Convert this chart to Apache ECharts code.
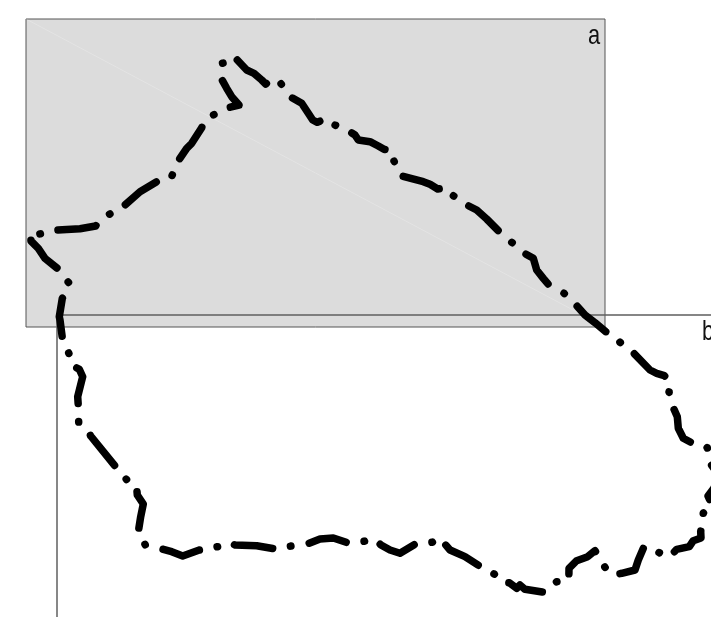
<!DOCTYPE html>
<html><head><meta charset="utf-8">
<style>html,body{margin:0;padding:0;background:#fff}#c{width:711px;height:617px}</style>
<script src="https://cdn.jsdelivr.net/npm/echarts@6/dist/echarts.min.js"></script>
</head><body><div id="c"></div>
<script>
// Closed outline, in panel b units
const outlineX = [180.3,189.7,197,204.7,208.7,216.4,224,233,244.7,251.3,255.7,260.3,270,278,293.7,298,301.3,313,321.3,327,336.5,337,344,366.3,373,380.7,390.5,396.3,411.3,419.7,429.7,441.3,449.2,454.7,468.7,476.3,479.7,486.3,491.3,507,520,528,538,548.7,557.6,563,576.3,593,599.7,607.3,614,612,617,620.3,621.3,626.3,634.7,643.2,650.3,653,658,660,657,651,655.5,646.3,643.7,644,636.3,632.3,619.7,612.2,602.3,587,581.3,578,564.7,554.7,548,538,530.7,519.7,512,511.8,499.7,487,468,463,459.7,452.3,442.8,437.3,422,408,393,388.7,383.2,375.3,358,343,333,324,316.7,307.3,290.3,276.3,263,252,234,217,199.7,178,169.7,160.7,142.3,125.7,114.7,106.3,88.3,81.3,83.7,86.3,80.3,79.4,69.7,58,33.7,29.6,21.7,21.3,20.7,25.7,22.3,13.1,12,5.3,3,2.3,5.3,11.7,11.7,0.3,-12,-18.7,-26,-26.5,-17.3,0.3,23,38.7,43.7,52.3,68,83,99.7,106.1,115,122.3,129.7,134.7,144.7,147.8,156.3,173,182,174.7,169.7,164.7,162.6,165.3,180.3];
const outlineY = [-255,-245,-241.7,-235,-231,-237,-231.3,-218.3,-211.7,-201.7,-195,-192.7,-196.9,-190,-182.7,-180,-175,-173.3,-169,-165.7,-163.7,-154,-139.3,-133.3,-130.7,-126,-127.4,-119.3,-109.3,-105,-96,-84.3,-79.9,-72.7,-61,-56.7,-45,-36.7,-30.7,-21.7,-9,0,7.7,16.7,19.7,27.3,37.7,55,58.3,60.7,67.6,77,94.3,101.7,113.3,123.3,127.7,127.9,132.7,148,155,165,173,181,191.4,198,216.7,223,225.7,231.7,234.3,242.4,237.7,231.7,245,255,258.3,260,252.3,235.7,241.7,245.7,253.3,265.4,266.7,277.3,274.3,270,273.3,267.7,266.8,259,250.7,241.7,235,230,222.6,227.3,229.3,238.3,235,230,223.2,226.3,227.7,223,224,228.3,231,233.7,230.7,230,227,231.7,235,241,236.7,234.3,230,216.7,201.7,189,180,169.3,164.7,151,121,112.5,107.3,91,81.7,61.7,54.3,49.2,38.7,22.7,5,1.7,-16.7,-23.2,-32.3,-46.7,-56.7,-66.7,-74,-83.5,-81,-85,-86.3,-89,-96.9,-100.7,-110,-123.3,-133.3,-139.4,-139.3,-155.7,-166.7,-171.7,-187.3,-196.1,-200,-207.7,-210,-218.3,-226.7,-235.7,-243.7,-251.7,-255];
const diagonalX = [0,1];
const diagonalY = [1,0];
const panelLabels = ['a','b'];
const labelFont = '28px "Liberation Sans",Arial,sans-serif';

const chart = echarts.init(document.getElementById('c'), null, {renderer:'canvas'});
chart.setOption({
  animation:false,
  backgroundColor:'#fff',
  graphic:[
    {type:'text',x:588,y:36.3,scaleX:0.78,z:10,style:{text:panelLabels[0],font:labelFont,fill:'#111',verticalAlign:'middle'}},
    {type:'text',x:702,y:332.3,scaleX:0.78,z:10,style:{text:panelLabels[1],font:labelFont,fill:'#111',verticalAlign:'middle'}}
  ],
  grid:[
    {left:26,top:19,width:579,height:308,show:true,backgroundColor:'#dcdcdc',borderColor:'#555',borderWidth:1},
    {left:57,top:315,width:654,height:302,show:false},
    {left:0,top:0,width:711,height:617,show:false}
  ],
  xAxis:[
    {gridIndex:0,type:'value',min:0,max:1,show:false},
    {gridIndex:1,type:'value',min:0,max:654,position:'top',axisLine:{show:true,onZero:false,lineStyle:{color:'#5f5f5f',width:1.5}},axisTick:{show:false},axisLabel:{show:false},splitLine:{show:false}},
    {gridIndex:2,type:'value',min:-57,max:654,show:false}
  ],
  yAxis:[
    {gridIndex:0,type:'value',min:0,max:1,show:false},
    {gridIndex:1,type:'value',min:0,max:302,inverse:true,position:'left',axisLine:{show:true,onZero:false,lineStyle:{color:'#5f5f5f',width:1.5}},axisTick:{show:false},axisLabel:{show:false},splitLine:{show:false}},
    {gridIndex:2,type:'value',min:-315,max:302,inverse:true,show:false}
  ],
  series:[
    {type:'line',xAxisIndex:0,yAxisIndex:0,data:diagonalX.map((x,i)=>[x,diagonalY[i]]),symbol:'none',silent:true,lineStyle:{color:'rgba(255,255,255,0.22)',width:1}},
    {type:'line',xAxisIndex:2,yAxisIndex:2,data:outlineX.map((x,i)=>[x,outlineY[i]]),symbol:'none',clip:false,smooth:false,silent:true,
     lineStyle:{color:'#000',width:7.5,cap:'round',join:'round',type:[38.5,18.5,0.5,18],dashOffset:0}}
  ]
});
</script>
</body></html>
